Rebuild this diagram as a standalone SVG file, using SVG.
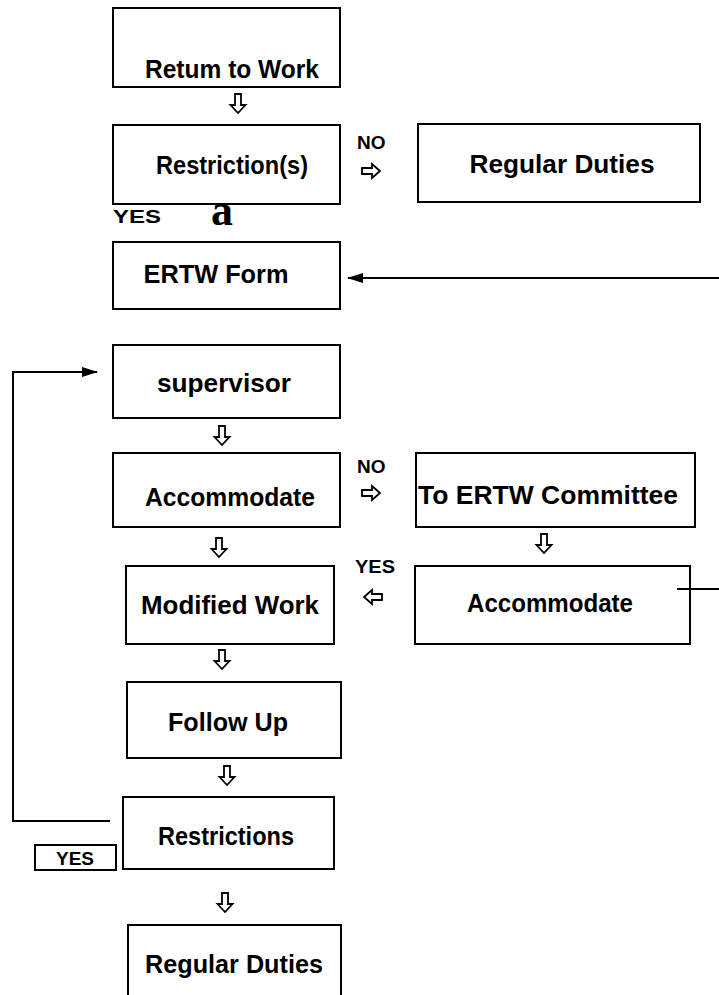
<svg xmlns="http://www.w3.org/2000/svg" width="719" height="995" viewBox="0 0 719 995">
<style>
.box{fill:none;stroke:#000;stroke-width:2}
.t{font-family:"Liberation Sans",Arial,sans-serif;font-weight:bold;font-size:25px;fill:#000;text-anchor:middle}
.s{font-family:"Liberation Sans",Arial,sans-serif;font-weight:bold;font-size:19px;fill:#000}
.ln{fill:none;stroke:#000;stroke-width:2}
.ha{fill:#fff;stroke:#000;stroke-width:1.8;stroke-linejoin:miter}
</style>
<defs>
<path id="dn" class="ha" d="M-3,0 H3 V11 H7.5 L0,19 L-7.5,11 H-3 Z"/>
<path id="rt" class="ha" d="M0,-3 H10 V-7 L18,0 L10,7 V3 H0 Z"/>
<path id="lf" class="ha" d="M18,-3 H8 V-7 L0,0 L8,7 V3 H18 Z"/>
<marker id="ah2" markerWidth="16" markerHeight="10" refX="15" refY="5" orient="auto" markerUnits="userSpaceOnUse">
<path d="M0,0 L16,5 L0,10 Z" fill="#000"/>
</marker>
</defs>
<rect width="719" height="995" fill="#fff"/>

<g id="n-return"><rect class="box" x="113" y="8" width="227" height="79"/><text class="t" x="232" y="78" textLength="174" lengthAdjust="spacingAndGlyphs">Retum to Work</text></g>
<g id="n-restriction"><rect class="box" x="113" y="125" width="227" height="79"/><text class="t" x="232" y="174" textLength="152" lengthAdjust="spacingAndGlyphs">Restriction(s)</text></g>
<g id="n-regular1"><rect class="box" x="418" y="124" width="282" height="78"/><text class="t" x="562" y="173" textLength="185" lengthAdjust="spacingAndGlyphs">Regular Duties</text></g>
<g id="n-ertw"><rect class="box" x="113" y="242" width="227" height="67"/><text class="t" x="216" y="283" textLength="145" lengthAdjust="spacingAndGlyphs">ERTW Form</text></g>
<g id="n-supervisor"><rect class="box" x="113" y="345" width="227" height="73"/><text class="t" x="224" y="392" textLength="134" lengthAdjust="spacingAndGlyphs">supervisor</text></g>
<g id="n-accom1"><rect class="box" x="113" y="453" width="227" height="74"/><text class="t" x="230" y="506" textLength="170" lengthAdjust="spacingAndGlyphs">Accommodate</text></g>
<g id="n-committee"><rect class="box" x="416" y="453" width="279" height="74"/><text class="t" x="548" y="504" textLength="260" lengthAdjust="spacingAndGlyphs">To ERTW Committee</text></g>
<g id="n-modified"><rect class="box" x="126" y="566" width="208" height="78"/><text class="t" x="230" y="614" textLength="178" lengthAdjust="spacingAndGlyphs">Modified Work</text></g>
<g id="n-accom2"><rect class="box" x="415" y="566" width="275" height="78"/><text class="t" x="550" y="612" textLength="166" lengthAdjust="spacingAndGlyphs">Accommodate</text></g>
<g id="n-follow"><rect class="box" x="127" y="682" width="214" height="76"/><text class="t" x="228" y="731" textLength="120" lengthAdjust="spacingAndGlyphs">Follow Up</text></g>
<g id="n-restrictions"><rect class="box" x="123" y="797" width="211" height="72"/><text class="t" x="226" y="845" textLength="136" lengthAdjust="spacingAndGlyphs">Restrictions</text></g>
<g id="n-regular2"><rect class="box" x="128" y="925" width="213" height="80"/><text class="t" x="234" y="973" textLength="178" lengthAdjust="spacingAndGlyphs">Regular Duties</text></g>

<g id="connectors">
<use href="#dn" x="238" y="94"/>
<use href="#rt" x="362" y="171"/>
<use href="#dn" x="222" y="426"/>
<use href="#rt" x="362" y="493"/>
<use href="#dn" x="544" y="534"/>
<use href="#dn" x="219" y="538"/>
<use href="#lf" x="364" y="597"/>
<use href="#dn" x="222" y="650"/>
<use href="#dn" x="227" y="766"/>
<use href="#dn" x="225" y="893"/>
<line class="ln" x1="719" y1="278" x2="348" y2="278" marker-end="url(#ah2)"/>
<polyline class="ln" points="110,821 13,821 13,372 97,372" marker-end="url(#ah2)"/>
<line class="ln" x1="677" y1="589" x2="719" y2="589"/>
</g>

<g id="labels">
<text class="s" x="357" y="149">NO</text>
<text class="s" x="113" y="223" textLength="48" lengthAdjust="spacingAndGlyphs">YES</text>
<text x="211" y="225" font-family="'Liberation Serif',serif" font-weight="bold" font-size="44">a</text>
<text class="s" x="357" y="473">NO</text>
<text class="s" x="355" y="573" textLength="40" lengthAdjust="spacingAndGlyphs">YES</text>
<rect class="box" x="35" y="845" width="81" height="25"/>
<text class="s" x="75" y="865" text-anchor="middle">YES</text>
</g>
</svg>
